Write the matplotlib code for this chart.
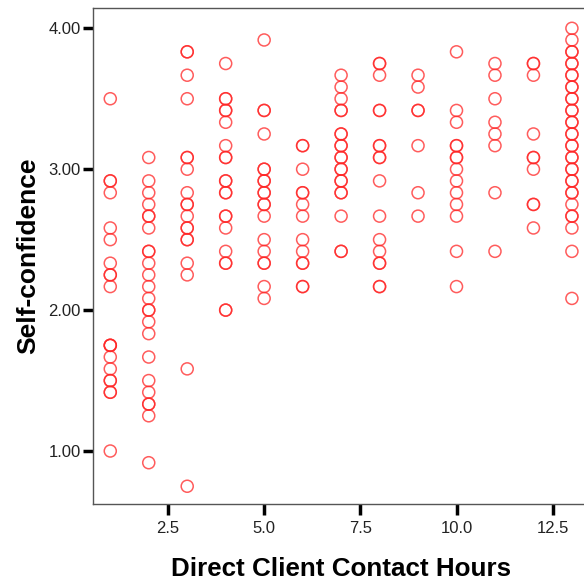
import matplotlib
matplotlib.use("Agg")
import matplotlib.pyplot as plt
from matplotlib.ticker import FormatStrFormatter

# Direct client contact hours (x) and self-confidence scores (y)
hours_1 = [1]*20
conf_1 = [3.500, 2.917, 2.917, 2.833, 2.583, 2.500, 2.333, 2.250, 2.250, 2.167,
          1.750, 1.750, 1.667, 1.583, 1.500, 1.500, 1.417, 1.417, 1.000, 1.750]
hours_2 = [2]*24
conf_2 = [3.083, 2.917, 2.833, 2.750, 2.667, 2.667, 2.583, 2.417, 2.417, 2.333,
          2.250, 2.167, 2.083, 2.000, 2.000, 1.917, 1.833, 1.667, 1.500, 1.417,
          1.333, 1.333, 1.250, 0.917]
hours_3 = [3]*19
conf_3 = [3.833, 3.833, 3.667, 3.500, 3.083, 3.083, 3.000, 2.833, 2.750, 2.750,
          2.667, 2.583, 2.583, 2.500, 2.500, 2.333, 2.250, 1.583, 0.750]
hours_4 = [4]*21
conf_4 = [3.750, 3.500, 3.500, 3.417, 3.417, 3.333, 3.167, 3.083, 3.083, 2.917,
          2.917, 2.833, 2.833, 2.667, 2.667, 2.583, 2.417, 2.333, 2.333, 2.000, 2.000]
hours_5 = [5]*19
conf_5 = [3.917, 3.417, 3.417, 3.250, 3.000, 3.000, 2.917, 2.917, 2.833, 2.833,
          2.750, 2.750, 2.667, 2.500, 2.417, 2.333, 2.333, 2.167, 2.083]
hours_6 = [6]*13
conf_6 = [3.167, 3.167, 3.000, 2.833, 2.833, 2.750, 2.667, 2.500, 2.417, 2.333,
          2.333, 2.167, 2.167]
hours_7 = [7]*20
conf_7 = [3.667, 3.583, 3.500, 3.417, 3.417, 3.250, 3.250, 3.167, 3.167, 3.083,
          3.083, 3.000, 3.000, 2.917, 2.917, 2.833, 2.833, 2.667, 2.417, 2.417]
hours_8 = [8]*17
conf_8 = [3.750, 3.750, 3.667, 3.417, 3.417, 3.167, 3.167, 3.083, 3.083, 2.917,
          2.667, 2.500, 2.417, 2.333, 2.333, 2.167, 2.167]
hours_9 = [9]*7
conf_9 = [3.667, 3.583, 3.417, 3.417, 3.167, 2.833, 2.667]
hours_10 = [10]*14
conf_10 = [3.833, 3.417, 3.333, 3.167, 3.167, 3.083, 3.083, 3.000, 2.917, 2.833,
           2.750, 2.667, 2.417, 2.167]
hours_11 = [11]*8
conf_11 = [3.750, 3.667, 3.500, 3.333, 3.250, 3.167, 2.833, 2.417]
hours_12 = [12]*10
conf_12 = [3.750, 3.750, 3.667, 3.250, 3.083, 3.083, 3.000, 2.750, 2.750, 2.583]
hours_13 = [13]*34
conf_13 = [4.000, 3.917, 3.833, 3.833, 3.750, 3.750, 3.667, 3.667, 3.583, 3.583,
           3.500, 3.500, 3.417, 3.417, 3.333, 3.333, 3.250, 3.250, 3.167, 3.167,
           3.083, 3.083, 3.000, 3.000, 2.917, 2.917, 2.833, 2.833, 2.750, 2.667,
           2.667, 2.583, 2.417, 2.083]

hours = (hours_1 + hours_2 + hours_3 + hours_4 + hours_5 + hours_6 + hours_7 +
         hours_8 + hours_9 + hours_10 + hours_11 + hours_12 + hours_13)
conf = (conf_1 + conf_2 + conf_3 + conf_4 + conf_5 + conf_6 + conf_7 +
        conf_8 + conf_9 + conf_10 + conf_11 + conf_12 + conf_13)

x_ticks = [2.5, 5.0, 7.5, 10.0, 12.5]
y_ticks = [1.0, 2.0, 3.0, 4.0]

plt.rcParams['font.family'] = ['Liberation Sans', 'DejaVu Sans']

fig = plt.figure(figsize=(5.84, 5.87), dpi=100)
ax = fig.add_axes([93/584, 83/587, 497/584, 496/587])

ax.scatter(hours, conf, s=75, facecolors='none', edgecolors=(1, 0.15, 0.15, 0.75),
           linewidths=1.1)

ax.set_xlim(0.551, 13.47)
ax.set_ylim(0.624, 4.144)
ax.set_xticks(x_ticks)
ax.set_yticks(y_ticks)
ax.xaxis.set_major_formatter(FormatStrFormatter('%.1f'))
ax.yaxis.set_major_formatter(FormatStrFormatter('%.2f'))

for s in ax.spines.values():
    s.set_color('#555555')
    s.set_linewidth(1.0)

ax.tick_params(axis='y', direction='out', length=7, width=2.5, color='black',
               labelsize=12, pad=2, labelcolor='#222222')
ax.tick_params(axis='x', direction='out', length=8, width=2.5, color='black',
               labelsize=12, pad=4, labelcolor='#222222')

ax.set_xlabel('Direct Client Contact Hours', fontsize=18.7, fontweight='bold', labelpad=15)
ax.set_ylabel('Self-confidence', fontsize=19, fontweight='bold', labelpad=6)

fig.savefig('out.png', dpi=100)
